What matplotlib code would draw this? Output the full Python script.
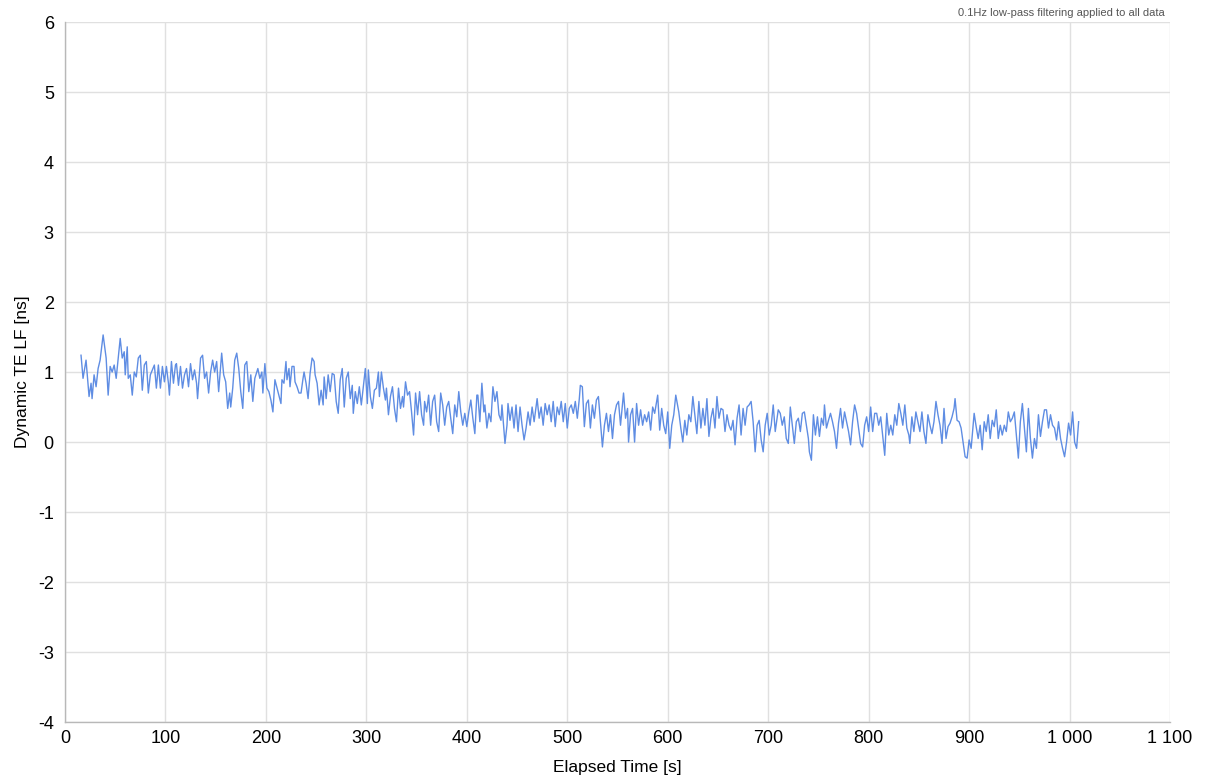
import matplotlib
matplotlib.use("Agg")
import matplotlib.pyplot as plt
from matplotlib.ticker import FuncFormatter

plt.rcParams["font.family"] = ["Liberation Sans", "DejaVu Sans"]
plt.rcParams["axes.unicode_minus"] = False

# elapsed time [s] and dynamic TE LF [ns]
t = [16, 18, 21, 24, 26, 27, 29, 31, 33, 35, 38, 41, 43, 45, 47, 49, 51, 53, 55, 57,
     59, 60, 62, 63, 65, 67, 69, 71, 73, 75, 77, 79, 81, 83, 85, 87, 89, 91, 93, 95,
     97, 99, 101, 103, 104, 106, 108, 110,
     111, 113, 115, 117, 119, 121, 123, 125, 127, 129, 131, 132, 135, 137, 139, 141,
     143, 145, 147, 149, 151, 153, 155, 156, 158, 160, 162, 164, 165, 167, 169, 171,
     173, 175, 177, 179, 181, 183, 185, 187, 189, 192, 194, 196, 197, 199, 201, 203,
     205, 207, 209,
     212, 215, 216, 218, 220, 221, 223, 224, 226, 228, 229, 231, 233, 235, 237, 238,
     240, 242, 244, 246, 248, 249, 251, 253, 255, 257, 258, 260, 262, 264, 266, 268,
     270, 272, 274, 276, 278, 280, 282, 284, 286, 287, 289, 291, 293, 295, 297, 299,
     301, 302, 304, 306, 308,
     310, 312, 313, 315, 317, 319, 320, 322, 324, 326, 328, 330, 332, 334, 336, 337,
     339, 341, 343, 345, 347, 349, 351, 353, 355, 357, 358, 360, 362, 364, 366, 368,
     370, 372, 374, 376, 378, 380, 382, 384, 386, 388, 390, 392, 394, 396, 398, 400,
     402, 404, 406, 408,
     410, 411, 413, 415, 417, 418, 420, 422, 424, 426, 428, 430, 432, 434, 435, 438,
     440, 441, 443, 445, 447, 449, 451, 453, 455, 457, 459, 461, 463, 465, 467, 470,
     472, 474, 476, 478, 480, 482, 484, 486, 488, 490, 492, 494, 496, 498, 500, 502,
     504, 506, 508, 510,
     512, 513, 515, 517, 519, 521, 523, 525, 527, 529, 531, 533, 535, 537, 539, 541,
     543, 545, 547, 549, 551, 553, 556, 558, 560, 561, 563, 565, 567, 569, 571, 573,
     575, 577, 579, 581, 583, 585, 587, 590, 592, 594, 596, 598, 600, 602, 604, 606,
     608,
     611, 613, 615, 617, 619, 621, 623, 625, 627, 629, 631, 633, 635, 637, 639, 641,
     643, 645, 647, 649, 651, 653, 655, 657, 659, 661, 663, 665, 667, 669, 671, 673,
     675, 677, 679, 681, 683, 685, 687, 689, 691, 693, 695, 697, 699, 701, 703, 705,
     707,
     710, 712, 714, 716, 718, 720, 722, 724, 726, 728, 730, 732, 734, 736, 738, 740,
     741, 743, 745, 747, 749, 751, 753, 755, 756, 758, 760, 762, 764, 766, 768, 770,
     772, 774, 776, 778, 780, 782, 784, 786, 788, 790, 792, 794, 796, 798, 800, 802,
     804, 806,
     808, 810, 812, 814, 816, 818, 820, 822, 824, 826, 828, 830, 832, 834, 836, 838,
     840, 841, 843, 845, 847, 849, 851, 853, 855, 857, 859, 861, 863, 865, 867, 869,
     871, 873, 875, 877, 879, 881, 883, 885, 886, 888, 890, 892, 894, 896, 898, 900,
     902, 905, 907,
     909, 911, 913, 915, 917, 919, 921, 923, 925, 927, 929, 931, 933, 935, 937, 939,
     941, 943, 945, 947, 949, 951, 953, 955, 957, 959, 961, 963, 965, 967, 969, 971,
     973, 975, 977, 979, 981, 983, 985, 987, 989, 991, 993, 995, 997, 999, 1001, 1003,
     1005, 1007, 1009]

te_lf = [1.24, 0.91, 1.17, 0.65, 0.84, 0.62, 0.96, 0.79, 1.05, 1.17, 1.53, 1.20, 0.67, 1.08, 1.00, 1.10, 0.91, 1.20, 1.48, 1.20,
         1.29, 0.96, 1.36, 0.91, 0.96, 0.67, 1.00, 0.93, 1.20, 1.24, 0.74, 1.10, 1.15, 0.70, 0.96, 1.03, 1.10, 0.77, 1.10, 0.77,
         1.08, 0.86, 1.08, 0.84, 0.67, 1.15, 0.84, 1.10,
         1.12, 0.81, 1.08, 0.77, 0.96, 1.05, 0.79, 1.12, 0.89, 1.03, 0.84, 0.62, 1.20, 1.24, 0.91, 1.00,
         0.70, 1.00, 1.17, 1.00, 1.15, 0.72, 1.10, 1.27, 0.96, 0.86, 0.48, 0.70, 0.50, 0.77, 1.17, 1.27,
         1.05, 0.72, 0.48, 1.10, 1.15, 0.72, 0.96, 0.58, 0.91, 1.05, 0.91, 1.00, 0.70, 1.12, 0.77, 0.72,
         0.60, 0.43, 0.89,
         0.72, 0.55, 0.89, 0.84, 1.15, 0.89, 1.05, 0.79, 1.08, 1.08, 0.86, 0.79, 0.70, 0.70, 0.91, 1.00,
         0.84, 0.62, 0.98, 1.20, 1.15, 0.96, 0.84, 0.53, 0.74, 0.53, 0.93, 0.62, 0.96, 0.72, 0.98, 0.96,
         0.58, 0.41, 0.89, 1.05, 0.50, 0.91, 1.00, 0.62, 0.81, 0.41, 0.72, 0.55, 0.79, 0.53, 0.79, 1.05,
         0.55, 1.03, 0.65, 0.48, 0.74,
         0.77, 1.00, 0.65, 1.00, 0.77, 0.60, 0.77, 0.39, 0.65, 0.79, 0.48, 0.29, 0.77, 0.48, 0.65, 0.50,
         0.86, 0.67, 0.72, 0.43, 0.10, 0.70, 0.39, 0.72, 0.39, 0.24, 0.58, 0.43, 0.67, 0.24, 0.58, 0.67,
         0.29, 0.15, 0.70, 0.53, 0.24, 0.50, 0.58, 0.34, 0.12, 0.53, 0.36, 0.72, 0.43, 0.24, 0.41, 0.22,
         0.43, 0.60, 0.34, 0.12,
         0.67, 0.67, 0.29, 0.84, 0.43, 0.53, 0.20, 0.41, 0.29, 0.79, 0.58, 0.72, 0.39, 0.31, 0.53, -0.02,
         0.24, 0.55, 0.31, 0.50, 0.20, 0.53, 0.15, 0.50, 0.24, 0.03, 0.20, 0.43, 0.24, 0.50, 0.29, 0.62,
         0.34, 0.50, 0.24, 0.55, 0.39, 0.53, 0.29, 0.58, 0.22, 0.50, 0.39, 0.58, 0.29, 0.55, 0.20, 0.48,
         0.53, 0.41, 0.58, 0.34,
         0.62, 0.81, 0.79, 0.22, 0.55, 0.60, 0.20, 0.53, 0.34, 0.60, 0.65, 0.29, -0.07, 0.24, 0.41, 0.15,
         0.39, 0.05, 0.39, 0.53, 0.58, 0.24, 0.70, 0.34, 0.48, 0.00, 0.39, 0.48, 0.00, 0.55, 0.24, 0.46,
         0.24, 0.39, 0.29, 0.43, 0.17, 0.50, 0.41, 0.67, 0.17, 0.48, 0.24, 0.12, 0.43, -0.09, 0.24, 0.39,
         0.67,
         0.43, 0.20, 0.00, 0.31, 0.10, 0.39, 0.29, 0.65, 0.39, 0.12, 0.58, 0.20, 0.48, 0.24, 0.62, 0.08,
         0.34, 0.48, 0.20, 0.65, 0.34, 0.48, 0.46, 0.15, 0.39, 0.24, 0.17, 0.31, -0.04, 0.34, 0.53, 0.10,
         0.48, 0.24, 0.50, 0.53, 0.58, 0.29, -0.14, 0.24, 0.31, 0.03, -0.14, 0.24, 0.41, 0.10, 0.24, 0.53,
         0.15,
         0.46, 0.41, 0.24, 0.36, 0.05, -0.02, 0.50, 0.24, -0.02, 0.29, 0.34, 0.15, 0.41, 0.43, 0.24, 0.05,
         -0.14, -0.26, 0.39, 0.10, 0.36, 0.08, 0.34, 0.24, 0.53, 0.20, 0.31, 0.41, 0.29, 0.15, -0.09, 0.27,
         0.48, 0.20, 0.43, 0.29, 0.15, -0.04, 0.29, 0.53, 0.41, 0.20, -0.02, -0.07, 0.24, 0.36, 0.15, 0.50,
         0.15, 0.41,
         0.41, 0.24, 0.36, 0.08, -0.19, 0.41, 0.10, 0.24, 0.10, 0.39, 0.24, 0.55, 0.41, 0.24, 0.53, 0.20,
         0.10, -0.02, 0.36, 0.15, 0.43, 0.29, 0.15, 0.43, 0.15, -0.02, 0.39, 0.24, 0.12, 0.29, 0.58, 0.39,
         0.24, -0.02, 0.48, 0.05, 0.22, 0.27, 0.36, 0.48, 0.62, 0.31, 0.29, 0.20, 0.00, -0.21, -0.23, 0.03,
         -0.09, 0.41, 0.22,
         0.05, 0.24, -0.11, 0.29, 0.15, 0.39, 0.05, 0.31, 0.22, 0.46, 0.05, 0.24, 0.10, 0.24, 0.15, 0.43,
         0.29, 0.34, 0.43, 0.10, -0.23, 0.29, 0.55, 0.20, -0.14, 0.48, 0.05, -0.23, 0.05, -0.09, 0.39, 0.08,
         0.29, 0.46, 0.46, 0.20, 0.39, 0.24, 0.20, 0.03, 0.29, 0.05, -0.09, -0.21, 0.00, 0.27, 0.10, 0.43,
         0.00, -0.09, 0.29]

x_ticks = list(range(0, 1101, 100))
y_ticks = list(range(-4, 7))

fig = plt.figure(figsize=(12.05, 7.81), dpi=100)
ax = fig.add_axes([0.0539, 0.0755, 0.9171, 0.8963])

ax.plot(t, te_lf, color="#5f8de3", lw=1.0)

ax.set_xlim(0, 1100)
ax.set_ylim(-4, 6)
ax.set_xticks(x_ticks)
ax.set_yticks(y_ticks)
ax.xaxis.set_major_formatter(FuncFormatter(lambda v, p: f"{int(v):,}".replace(",", " ")))
ax.tick_params(length=0, labelsize=13, colors="#000000", pad=8)
ax.tick_params(axis="x", pad=6)
ax.grid(True, color="#e0e0e0", lw=1.0)
ax.set_axisbelow(True)
for side in ("top", "right"):
    ax.spines[side].set_visible(False)
for side in ("left", "bottom"):
    ax.spines[side].set_color("#b8b8b8")
    ax.spines[side].set_linewidth(1.0)

ax.set_xlabel("Elapsed Time [s]", fontsize=12.5, labelpad=9)
ax.set_ylabel("Dynamic TE LF [ns]", fontsize=12.5, labelpad=6)

fig.text(0.967, 0.983, "0.1Hz low-pass filtering applied to all data",
         ha="right", va="center", fontsize=8, color="#555555")

fig.savefig("out.png", dpi=100)
